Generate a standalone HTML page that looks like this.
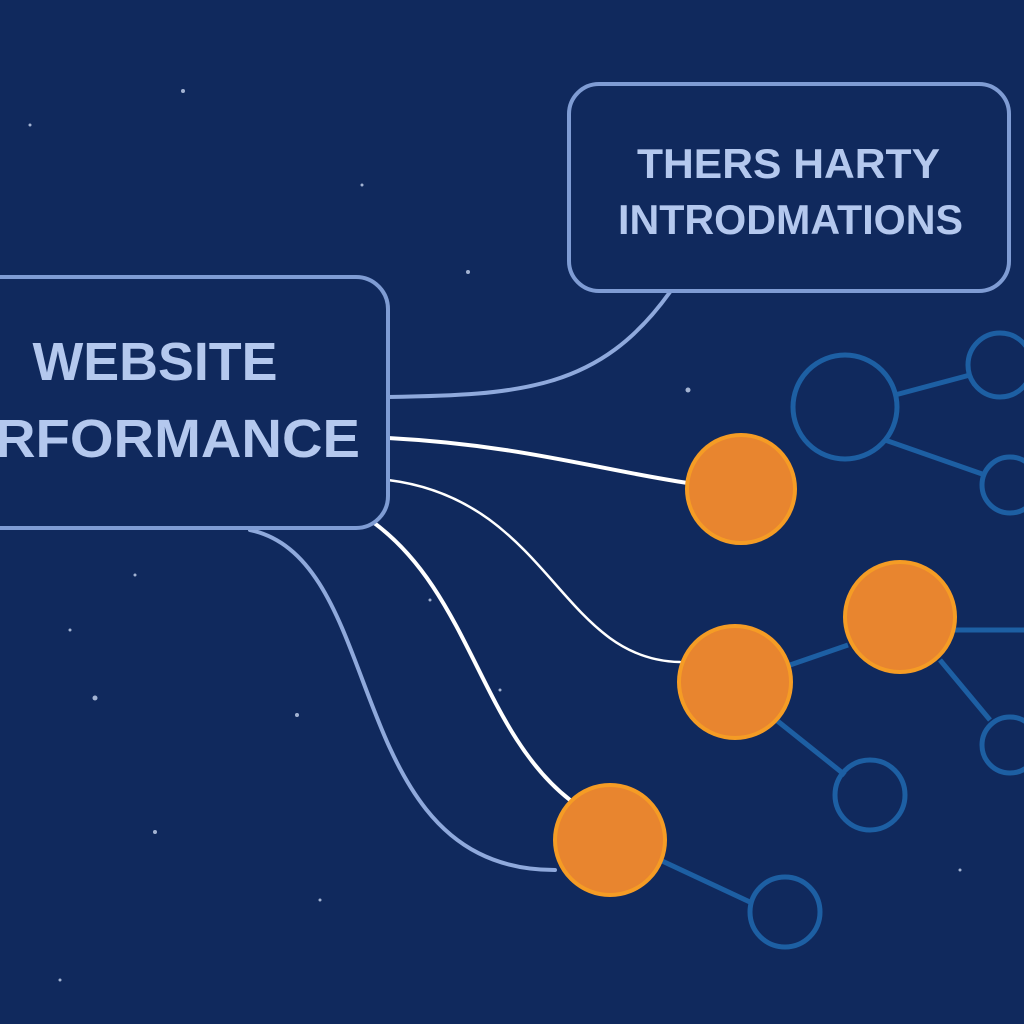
<!DOCTYPE html>
<html><head><style>
html,body{margin:0;padding:0;background:#10295d;}
svg{display:block}
text{font-family:"Liberation Sans",sans-serif;font-weight:bold;fill:#b4c8ee;}
</style></head><body>
<svg width="1024" height="1024" viewBox="0 0 1024 1024">
<rect width="1024" height="1024" fill="#10295d"/>
<g fill="#c8d6f0" opacity="0.8">
<circle cx="183" cy="91" r="2"/><circle cx="468" cy="272" r="2"/><circle cx="688" cy="390" r="2.5"/><circle cx="95" cy="698" r="2.5"/><circle cx="155" cy="832" r="2"/><circle cx="297" cy="715" r="2"/><circle cx="135" cy="575" r="1.5"/><circle cx="70" cy="630" r="1.5"/><circle cx="362" cy="185" r="1.5"/><circle cx="30" cy="125" r="1.5"/><circle cx="430" cy="600" r="1.5"/><circle cx="500" cy="690" r="1.5"/><circle cx="320" cy="900" r="1.5"/><circle cx="60" cy="980" r="1.5"/><circle cx="960" cy="870" r="1.5"/>
</g>
<!-- connectors -->
<g fill="none" stroke-linecap="round">
<path d="M388,397 C520,395 600,390 670,292" stroke="#8fa9dc" stroke-width="4"/>
<path d="M250,530 C390,560 340,870 555,870" stroke="#8fa9dc" stroke-width="4"/>
<path d="M388,438 C520,445 600,470 688,483" stroke="#ffffff" stroke-width="4"/>
<path d="M388,480 C550,500 560,660 680,662" stroke="#ffffff" stroke-width="2.5"/>
<path d="M370,520 C470,590 480,730 570,800" stroke="#ffffff" stroke-width="4"/>
</g>
<!-- blue network -->
<g fill="none" stroke="#1d5fa3" stroke-width="5">
<line x1="895" y1="395" x2="970" y2="375"/><line x1="885" y1="440" x2="985" y2="475"/>
<line x1="955" y1="630" x2="1024" y2="630"/><line x1="940" y1="660" x2="990" y2="720"/>
<line x1="770" y1="715" x2="845" y2="775"/><line x1="660" y1="860" x2="752" y2="903"/>
<line x1="790" y1="665" x2="848" y2="645"/>
<circle cx="845" cy="407" r="52"/><circle cx="1000" cy="365" r="32"/><circle cx="1010" cy="485" r="28"/>
<circle cx="870" cy="795" r="35"/><circle cx="785" cy="912" r="35"/><circle cx="1010" cy="745" r="28"/>
</g>
<!-- orange nodes -->
<g fill="#e8852f" stroke="#f59c25" stroke-width="4">
<circle cx="741" cy="489" r="54"/><circle cx="900" cy="617" r="55"/><circle cx="735" cy="682" r="56"/><circle cx="610" cy="840" r="55"/>
</g>
<!-- boxes -->
<rect x="-30" y="277" width="418" height="251" rx="32" fill="#10295d" stroke="#7f9cd4" stroke-width="4"/>
<rect x="569" y="84" width="440" height="207" rx="30" fill="#10295d" stroke="#7f9cd4" stroke-width="4"/>
<text x="155" y="380" font-size="54" text-anchor="middle" textLength="245" lengthAdjust="spacingAndGlyphs">WEBSITE</text>
<text x="-5" y="457" font-size="54" textLength="365" lengthAdjust="spacingAndGlyphs">RFORMANCE</text>
<text x="637" y="178" font-size="42" textLength="303" lengthAdjust="spacingAndGlyphs">THERS HARTY</text>
<text x="618" y="234" font-size="42" textLength="345" lengthAdjust="spacingAndGlyphs">INTRODMATIONS</text>
</svg>
</body></html>
